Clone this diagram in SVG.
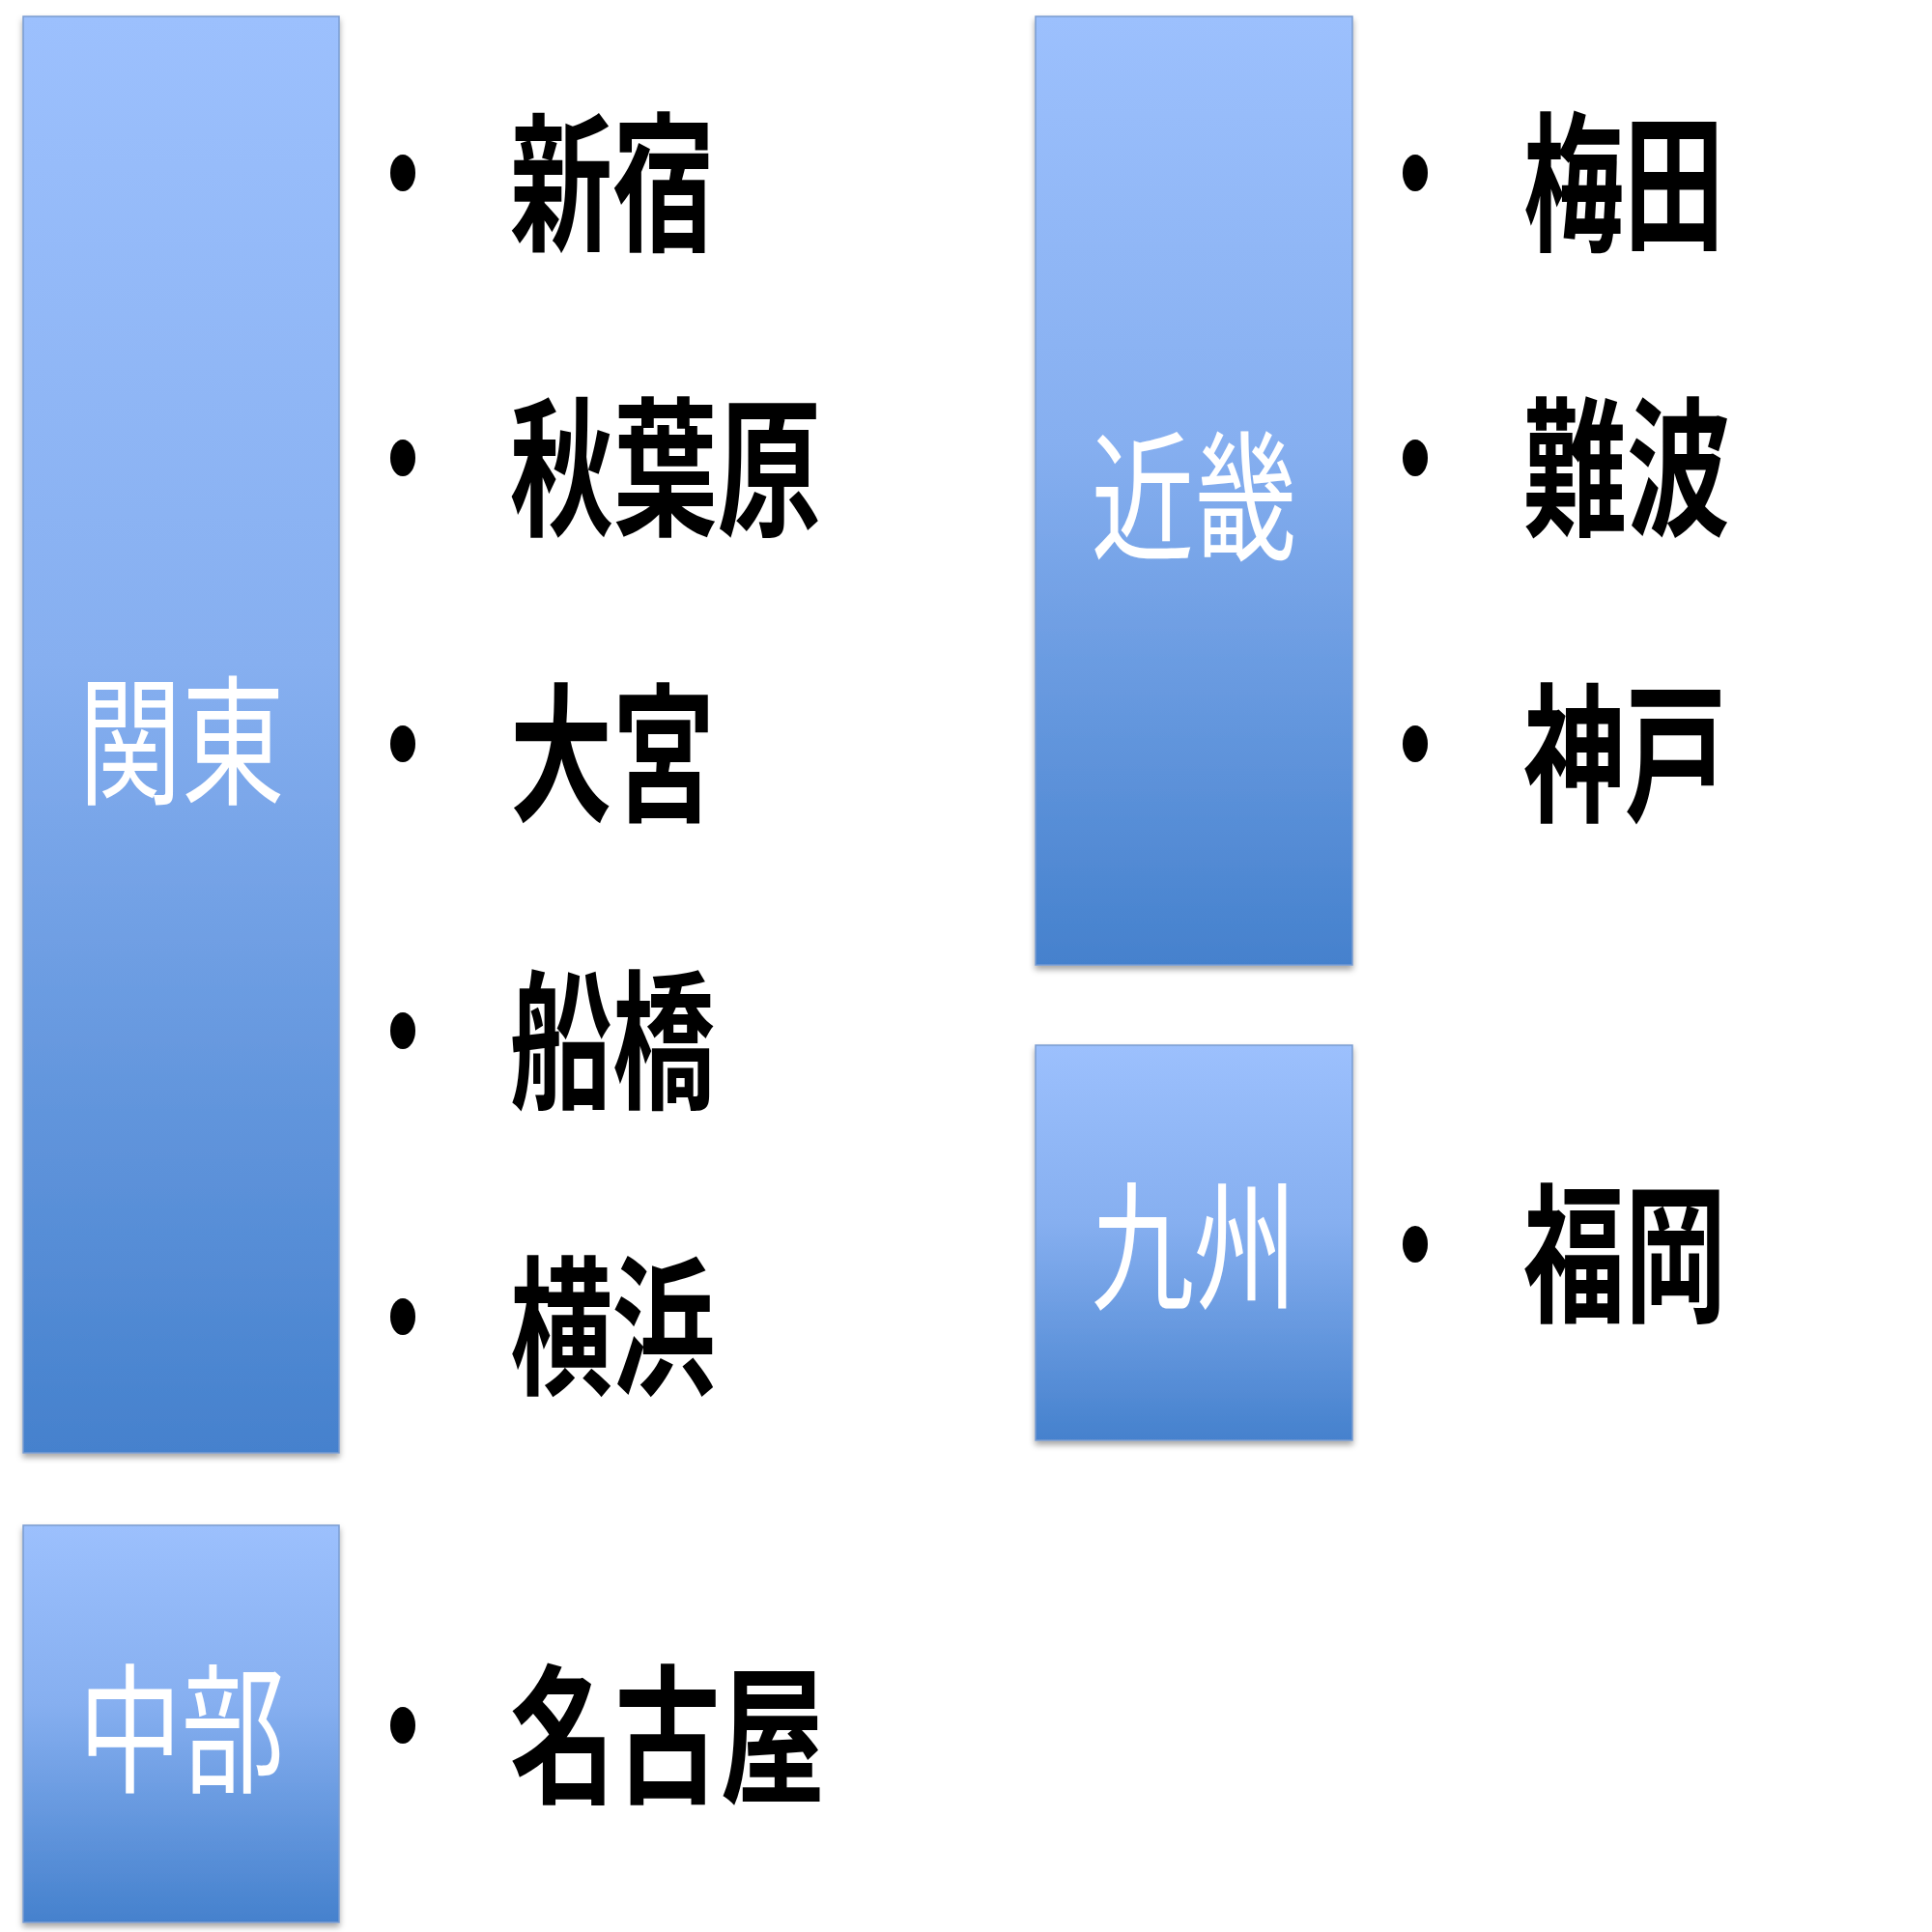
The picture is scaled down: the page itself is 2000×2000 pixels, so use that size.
<svg xmlns="http://www.w3.org/2000/svg" width="2000" height="2000" viewBox="0 0 2000 2000">
<defs>
<linearGradient id="g" x1="0" y1="0" x2="0" y2="1"><stop offset="0" stop-color="#9cc0fd"/><stop offset="0.45" stop-color="#86aff0"/><stop offset="1" stop-color="#4581cd"/></linearGradient>
<filter id="sh" x="-5%" y="-5%" width="110%" height="110%"><feDropShadow dx="0" dy="4" stdDeviation="3" flood-color="#000" flood-opacity="0.35"/></filter>
</defs>
<style>
.box{fill:url(#g);stroke:#7a9cd0;stroke-width:1.5;filter:url(#sh)}
.bt{fill:#fff;font-family:"Noto Sans CJK JP",sans-serif;font-size:145px;text-anchor:middle;dominant-baseline:central}
.it{fill:#000;font-family:"Noto Sans CJK JP",sans-serif;font-weight:bold;font-size:155px;dominant-baseline:central}
.dot{fill:#000}
</style>
<rect width="2000" height="2000" fill="#fff"/>
<g id="kanto"><rect class="box" x="24" y="17" width="327" height="1487"/><text class="bt" x="188" y="759" textLength="213" lengthAdjust="spacingAndGlyphs">関東</text></g>
<g id="chubu"><rect class="box" x="24" y="1579" width="327" height="411"/><text class="bt" x="188" y="1782" textLength="213" lengthAdjust="spacingAndGlyphs">中部</text></g>
<g id="kinki"><rect class="box" x="1072" y="17" width="328" height="982"/><text class="bt" x="1236" y="506" textLength="213" lengthAdjust="spacingAndGlyphs">近畿</text></g>
<g id="kyushu"><rect class="box" x="1072" y="1082" width="328" height="409"/><text class="bt" x="1236" y="1282" textLength="213" lengthAdjust="spacingAndGlyphs">九州</text></g>
<g id="items">
<ellipse class="dot" cx="417" cy="179" rx="13" ry="19"/><text class="it" x="528" y="179" textLength="212" lengthAdjust="spacingAndGlyphs">新宿</text>
<ellipse class="dot" cx="417" cy="474" rx="13" ry="19"/><text class="it" x="528" y="474" textLength="322" lengthAdjust="spacingAndGlyphs">秋葉原</text>
<ellipse class="dot" cx="417" cy="770" rx="13" ry="19"/><text class="it" x="528" y="770" textLength="212" lengthAdjust="spacingAndGlyphs">大宮</text>
<ellipse class="dot" cx="417" cy="1067" rx="13" ry="19"/><text class="it" x="528" y="1067" textLength="212" lengthAdjust="spacingAndGlyphs">船橋</text>
<ellipse class="dot" cx="417" cy="1363" rx="13" ry="19"/><text class="it" x="528" y="1363" textLength="212" lengthAdjust="spacingAndGlyphs">横浜</text>
<ellipse class="dot" cx="417" cy="1786" rx="13" ry="19"/><text class="it" x="528" y="1786" textLength="326" lengthAdjust="spacingAndGlyphs">名古屋</text>
<ellipse class="dot" cx="1465" cy="179" rx="13" ry="19"/><text class="it" x="1577" y="179" textLength="208" lengthAdjust="spacingAndGlyphs">梅田</text>
<ellipse class="dot" cx="1465" cy="474" rx="13" ry="19"/><text class="it" x="1577" y="474" textLength="214" lengthAdjust="spacingAndGlyphs">難波</text>
<ellipse class="dot" cx="1465" cy="770" rx="13" ry="19"/><text class="it" x="1577" y="770" textLength="210" lengthAdjust="spacingAndGlyphs">神戸</text>
<ellipse class="dot" cx="1465" cy="1288" rx="13" ry="19"/><text class="it" x="1577" y="1288" textLength="210" lengthAdjust="spacingAndGlyphs">福岡</text>
</g>
<g id="connectors"/>
</svg>
